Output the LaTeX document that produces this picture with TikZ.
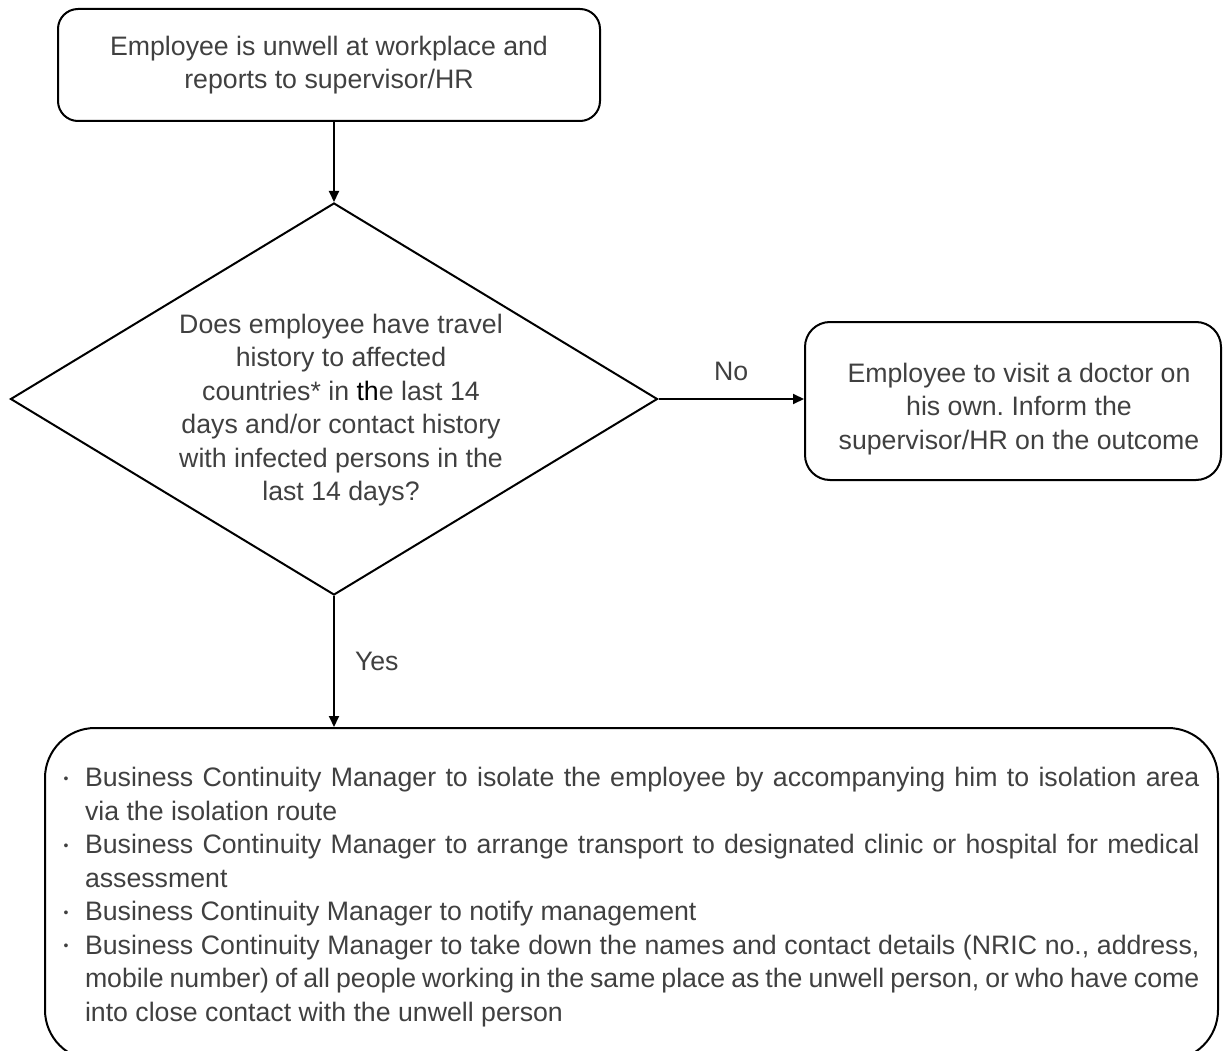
\documentclass[tikz,border=0pt]{standalone}
\usepackage{fontspec}
\setmainfont{Liberation Sans}
\usetikzlibrary{arrows.meta,shapes.geometric,positioning}
\definecolor{txtgray}{HTML}{404040}
\frenchspacing
\newcommand{\actitem}{\par\noindent\hangindent=21.5pt\hangafter=1%
  \makebox[21.5pt][l]{\raisebox{3.5pt}{\fontsize{14}{14}\selectfont\textbullet}}}

\begin{document}
\begin{tikzpicture}[x=1pt,y=-1pt,->,>={Triangle[length=11pt,width=10pt]},line width=2pt,
    every node/.style={text=txtgray,font=\fontsize{26.7}{33.5}\selectfont},
    every edge/.append style={line width=2pt},
    procbox/.style={draw=black,rounded corners=20pt,align=center,inner sep=0pt},
    decision/.style={draw=black,diamond,inner sep=0pt},
    lbl/.style={inner sep=2pt}]
    \useasboundingbox (0,0) rectangle (1224,1051);

    \node   [procbox,minimum width=542pt,minimum height=112pt]      (report) at (329,65)
            {Employee is unwell at workplace and\\reports to supervisor/HR};
    \node   [decision,minimum width=647pt,minimum height=392pt]     (check) at (334,399) {};
    \node   [align=center]                                         (checktext) at (341,410)
            {Does employee have travel\\history to affected\\countries* in {\color{black}th}e last 14\\days and/or contact history\\with infected persons in the\\last 14 days?};
    \node   [procbox,rounded corners=25pt,minimum width=416pt,minimum height=158pt] (visit) at (1013,401) {};
    \node   [align=center]                                         (visittext) at (1019,409)
            {Employee to visit a doctor on\\his own. Inform the\\supervisor/HR on the outcome};
    \node   [procbox,rounded corners=50pt,minimum width=1173pt,minimum height=332pt,
             text width=1136pt,align=justify]                      (actions) at (631.5,894)
            {\vspace*{-4pt}%
             \actitem Business Continuity Manager to isolate the employee by accompanying him to isolation area\linebreak
             via the isolation route
             \actitem Business Continuity Manager to arrange transport to designated clinic or hospital for medical\linebreak
             assessment
             \actitem Business Continuity Manager to notify management
             \actitem Business Continuity Manager to take down the names and contact details (NRIC no., address,\linebreak
             mobile number) of all people working in the same place as the unwell person, or who have come\linebreak
             into close contact with the unwell person\par\vspace*{4pt}};

    \path   (report.south -| check.north) edge (check.north)
            (check.east) edge node [lbl,above=15pt] {No} (check.east -| visit.west)
            (check.south) edge node [lbl,right=18pt] {Yes} (check.south |- actions.north);
\end{tikzpicture}
\end{document}
